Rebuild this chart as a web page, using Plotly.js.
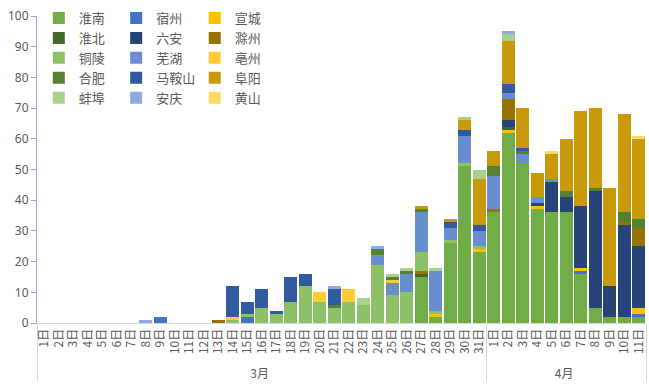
<!DOCTYPE html>
<html><head><meta charset="utf-8">
<script src="https://cdn.plot.ly/plotly-3.0.1.min.js"></script>
<style>html,body{margin:0;padding:0;background:#fff}#chart{width:649px;height:392px}</style>
</head><body><div id="chart"></div>
<script>
const monthLabels = ['3月','3月','3月','3月','3月','3月','3月','3月','3月','3月','3月','3月','3月','3月','3月','3月','3月','3月','3月','3月','3月','3月','3月','3月','3月','3月','3月','3月','3月','3月','3月','4月','4月','4月','4月','4月','4月','4月','4月','4月','4月','4月'];
const dayLabels = ['1日','2日','3日','4日','5日','6日','7日','8日','9日','10日','11日','12日','13日','14日','15日','16日','17日','18日','19日','20日','21日','22日','23日','24日','25日','26日','27日','28日','29日','30日','31日','1日','2日','3日','4日','5日','6日','7日','8日','9日','10日','11日'];

// stacking order (bottom to top) = legend read row by row
const cities = ['淮南','宿州','宣城','淮北','六安','滁州','铜陵','芜湖','亳州','合肥','马鞍山','阜阳','蚌埠','安庆','黄山'];

const huainan  = [0,0,0,0,0,0,0,0,0,0, 0,0,0,0,0,0,0,0,0,0, 0,0,0,0,0,0,15,2,26,51, 23,36,62,52,37,36,36,16,5,2, 2,2];
const suzhou   = [0,0,0,0,0,0,0,0,2,0, 0,0,0,0,2,0,0,0,0,0, 0,0,0,0,0,0,0,0,0,0, 0,0,0,0,0,0,0,1,0,0, 0,1];
const xuancheng= [0,0,0,0,0,0,0,0,0,0, 0,0,0,0,0,0,0,0,0,0, 0,0,0,0,0,0,0,1,0,0, 1,0,1,0,1,0,0,1,0,0, 0,2];
const huaibei  = [0,0,0,0,0,0,0,0,0,0, 0,0,0,0,0,0,0,0,0,0, 0,0,0,0,0,0,1,0,0,0, 0,0,1,0,0,0,0,0,0,0, 0,0];
const luan     = [0,0,0,0,0,0,0,0,0,0, 0,0,0,0,0,0,0,0,0,0, 0,0,0,0,0,0,0,0,0,0, 0,0,2,0,1,10,5,20,38,10, 30,20];
const chuzhou  = [0,0,0,0,0,0,0,0,0,0, 0,0,1,0,0,0,0,0,0,0, 0,0,0,0,0,0,1,0,0,0, 0,1,7,0,0,0,0,0,0,0, 1,6];
const tongling = [0,0,0,0,0,0,0,0,0,0, 0,0,0,1,1,5,3,7,12,7, 5,7,6,19,9,10,6,1,1,1, 1,0,0,0,0,0,0,0,0,0, 0,0];
const wuhu     = [0,0,0,0,0,0,0,0,0,0, 0,0,0,0,0,0,0,0,0,0, 0,0,0,3,4,6,13,13,4,9, 5,11,2,3,2,1,0,0,0,0, 0,0];
const bozhou   = [0,0,0,0,0,0,0,0,0,0, 0,0,0,1,0,0,0,0,0,3, 0,4,0,0,1,0,0,0,0,0, 0,0,0,0,0,0,0,0,0,0, 0,0];
const hefei    = [0,0,0,0,0,0,0,0,0,0, 0,0,0,0,0,0,0,0,0,0, 1,0,0,2,1,1,1,0,0,0, 0,3,0,1,0,0,2,0,1,0, 3,3];
const maanshan = [0,0,0,0,0,0,0,0,0,0, 0,0,0,10,4,6,1,8,4,0, 5,0,0,0,0,0,0,0,2,2, 2,0,3,1,0,0,0,0,0,0, 0,0];
const fuyang   = [0,0,0,0,0,0,0,0,0,0, 0,0,0,0,0,0,0,0,0,0, 0,0,0,0,0,0,1,0,1,3, 15,5,14,13,8,8,17,31,26,32, 32,26];
const bengbu   = [0,0,0,0,0,0,0,0,0,0, 0,0,0,0,0,0,0,0,0,0, 0,0,2,0,1,1,0,1,0,1, 3,0,2,0,0,0,0,0,0,0, 0,0];
const anqing   = [0,0,0,0,0,0,0,1,0,0, 0,0,0,0,0,0,0,0,0,0, 1,0,0,1,0,0,0,0,0,0, 0,0,1,0,0,0,0,0,0,0, 0,0];
const huangshan= [0,0,0,0,0,0,0,0,0,0, 0,0,0,0,0,0,0,0,0,0, 0,0,0,0,0,0,0,0,0,0, 0,0,0,0,0,1,0,0,0,0, 0,1];

const seriesValues = [huainan,suzhou,xuancheng,huaibei,luan,chuzhou,tongling,wuhu,bozhou,hefei,maanshan,fuyang,bengbu,anqing,huangshan];
const colors = ['#70AD47','#4472C4','#FFC000','#43682B','#264478','#997300','#8CC168','#698ED0','#FFCD33','#548235','#335AA1','#C89A0A','#A9D18E','#8FAADC','#FFD966'];
const legendIds = ['legend','legend2','legend3'];

const traces = cities.map((c, i) => ({
  type: 'bar',
  name: c,
  x: [monthLabels, dayLabels],
  y: seriesValues[i],
  marker: {color: colors[i], line: {width: 0}},
  legend: legendIds[i % 3]
}));

const legendBase = {
  orientation: 'v', traceorder: 'normal', xanchor: 'left', yanchor: 'top', y: 1.042,
  bgcolor: 'rgba(0,0,0,0)', borderwidth: 0,
  font: {size: 13, color: '#595959', family: '"Noto Sans CJK SC", sans-serif'}
};

const layout = {
  width: 649, height: 392,
  margin: {l: 37, r: 3, t: 12, b: 69},
  barmode: 'stack', bargap: 0.07,
  paper_bgcolor: '#ffffff', plot_bgcolor: '#ffffff',
  font: {family: '"Noto Sans CJK SC", "Noto Sans", sans-serif', color: '#595959', size: 12},
  showlegend: true,
  xaxis: {
    type: 'multicategory', tickangle: -90, ticks: '', showgrid: false,
    showline: true, linecolor: '#D9D9D9', linewidth: 1,
    showdividers: true, dividercolor: '#D9D9D9', dividerwidth: 1,
    tickfont: {size: 12, color: '#595959'}
  },
  yaxis: {
    range: [0, 100], dtick: 10, ticks: 'outside', ticklen: 5, tickcolor: '#8FAADC',
    showline: true, linecolor: '#8FAADC', linewidth: 1,
    showgrid: false, zeroline: false,
    tickfont: {size: 12, color: '#595959', family: '"Noto Sans", sans-serif'}
  },
  legend:  Object.assign({}, legendBase, {x: 0.003}),
  legend2: Object.assign({}, legendBase, {x: 0.13}),
  legend3: Object.assign({}, legendBase, {x: 0.259})
};

Plotly.newPlot('chart', traces, layout, {displayModeBar: false, staticPlot: true});
</script>
</body></html>
